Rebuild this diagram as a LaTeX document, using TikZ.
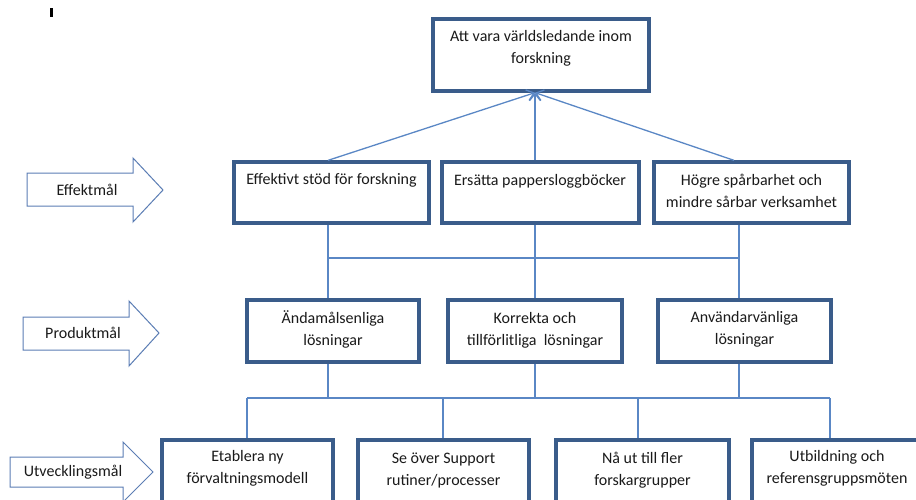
\documentclass[tikz,border=0pt]{standalone}
\usepackage{fontspec}
\setmainfont{Carlito}
\usetikzlibrary{arrows.meta,calc}
\definecolor{boxc}{HTML}{3A5C8A}
\definecolor{linec}{HTML}{5A87C5}
\definecolor{arrc}{HTML}{5B7DB4}
\definecolor{txtc}{HTML}{1A1A1A}
\begin{document}
\begin{tikzpicture}[x=1pt,y=-1pt,
  box/.style={draw=boxc, line width=3.3pt, fill=white, inner sep=0pt},
  txt/.style={font=\fontsize{16}{22}\selectfont, align=center, inner sep=0pt, text=txtc},
  conn/.style={draw=linec, line width=1.3pt},
  upconn/.style={conn, -{Straight Barb[length=7pt,width=11pt,line width=1.3pt]}},
  barrow/.style={draw=arrc, line width=1pt, fill=white, line join=miter}]
\useasboundingbox (0,0) rectangle (916,499);
% cursor mark
\fill[black] (50,8) rectangle (53,17);
% block arrows
\draw[barrow] (27,173) -- (133,173) -- (133,158) -- (163,190) -- (133,222) -- (133,206) -- (27,206) -- cycle;
\node[txt] (ta1) at (87,190) {Effektmål};
\draw[barrow] (23,317) -- (129,317) -- (129,301) -- (159,333) -- (129,366) -- (129,350) -- (23,350) -- cycle;
\node[txt] (ta2) at (83,333) {Produktmål};
\draw[barrow] (10,457) -- (123,457) -- (123,442) -- (153,472) -- (123,502) -- (123,487) -- (10,487) -- cycle;
\node[txt] (ta3) at (73,472) {Utvecklingsmål};
% boxes
\node[box, minimum width=216pt, minimum height=72pt] (top) at (541,55) {};
\node[box, minimum width=195pt, minimum height=61pt] (e1) at (331.5,192.5) {};
\node[box, minimum width=197pt, minimum height=61pt] (e2) at (540.5,192.5) {};
\node[box, minimum width=195pt, minimum height=61pt] (e3) at (751.5,192.5) {};
\node[box, minimum width=172pt, minimum height=62pt] (p1) at (333,331) {};
\node[box, minimum width=174pt, minimum height=62pt] (p2) at (535,331) {};
\node[box, minimum width=173pt, minimum height=62pt] (p3) at (744.5,331) {};
\node[box, minimum width=171pt, minimum height=80pt] (d1) at (247.5,480) {};
\node[box, minimum width=171pt, minimum height=80pt] (d2) at (443.5,480) {};
\node[box, minimum width=173pt, minimum height=80pt] (d3) at (642.5,480) {};
\node[box, minimum width=170pt, minimum height=80pt] (d4) at (837,480) {};
% connection points
\coordinate (apex) at ($(top.south)+(-6,0)$);
\coordinate (e1n) at ($(e1.north)+(-3.5,0)$);
\coordinate (e2n) at ($(e2.north)+(-5.5,0)$);
\coordinate (e3n) at ($(e3.north)+(-17.5,0)$);
\coordinate (e1s) at ($(e1.south)+(-3.5,0)$);
\coordinate (e2s) at ($(e2.south)+(-5.5,0)$);
\coordinate (e3s) at ($(e3.south)+(-12.5,0)$);
\coordinate (busA) at (0,258);
\coordinate (p1n) at ($(p1.north)+(-5,0)$);
\coordinate (p2n) at ($(p2.north)+(0,0)$);
\coordinate (p3n) at ($(p3.north)+(-5.5,0)$);
\coordinate (p1s) at ($(p1.south)+(-5,0)$);
\coordinate (p2s) at ($(p2.south)+(0,0)$);
\coordinate (p3s) at ($(p3.south)+(-5.5,0)$);
\coordinate (busB) at (0,398);
\coordinate (d1n) at ($(d1.north)+(-0.5,0)$);
\coordinate (d2n) at ($(d2.north)+(-0.5,0)$);
\coordinate (d3n) at ($(d3.north)+(-4.5,0)$);
\coordinate (d4n) at ($(d4.north)+(-7,0)$);
% connectors
\draw[upconn] (e1n) -- (apex);
\draw[upconn] (e2n) -- (apex);
\draw[upconn] (e3n) -- (apex);
\draw[conn] (e1s) -- (p1n);
\draw[conn] (e2s) -- (p2n);
\draw[conn] (e3s) -- (p3n);
\draw[conn] (e1s |- busA) -- (e3s |- busA);
\draw[conn] (p1s) -- (p1s |- busB);
\draw[conn] (p2s) -- (p2s |- busB);
\draw[conn] (p3s) -- (p3s |- busB);
\draw[conn] (d1n |- busB) -- (d4n |- busB);
\draw[conn] (d1n |- busB) -- (d1n);
\draw[conn] (d2n |- busB) -- (d2n);
\draw[conn] (d3n |- busB) -- (d3n);
\draw[conn] (d4n |- busB) -- (d4n);
% texts
\node[txt] (t0) at (541,48.5) {Att vara världsledande inom\\forskning};
\node[txt] (te1) at (331.5,180) {Effektivt stöd för forskning};
\node[txt] (te2) at (540,181) {Ersätta pappersloggböcker};
\node[txt] (te3) at (751.5,191) {Högre spårbarhet och\\mindre sårbar verksamhet};
\node[txt] (tp1) at (333,329) {Ändamålsenliga\\lösningar};
\node[txt] (tp2) at (535,330) {Korrekta och\\tillförlitliga~ lösningar};
\node[txt] (tp3) at (744.5,329) {Användarvänliga\\lösningar};
\node[txt] (td1) at (247.5,468.5) {Etablera ny\\förvaltningsmodell};
\node[txt] (td2) at (443.5,470.5) {Se över Support\\rutiner/processer};
\node[txt] (td3) at (642.5,470.5) {Nå ut till fler\\forskargrupper};
\node[txt] (td4) at (837,468.5) {Utbildning och\\referensgruppsmöten};
\end{tikzpicture}
\end{document}
